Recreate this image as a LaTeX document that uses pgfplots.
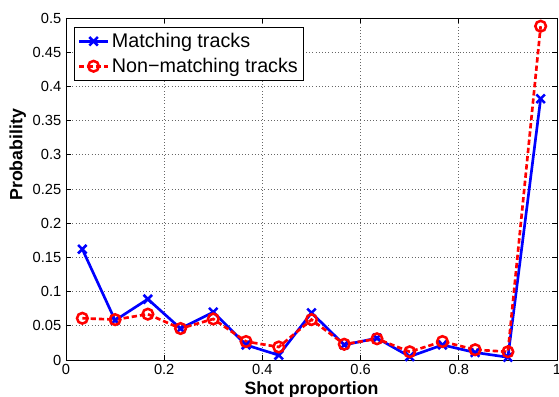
\documentclass[border=0pt]{standalone}
\usepackage{pgfplots}
\pgfplotsset{compat=1.18}
\usepackage{fontspec}
\setmainfont{Liberation Sans}
\begin{document}
\begin{tikzpicture}
\begin{axis}[
  scale only axis,
  width=368.25pt, height=256.5pt,
  xmin=0, xmax=1, ymin=0, ymax=0.5,
  xtick={0,0.2,0.4,0.6,0.8,1},
  ytick={0,0.05,0.1,0.15,0.2,0.25,0.3,0.35,0.4,0.45,0.5},
  /pgf/number format/assume math mode=true,
  /pgf/number format/fixed,
  tick label style={font=\fontsize{11}{13}\selectfont},
  grid=major,
  major grid style={dotted, black!60, line width=0.5pt},
  tick align=inside,
  major tick length=4pt,
  axis line style={black, line width=0.7pt},
  every tick/.style={black, line width=0.6pt},
  xlabel={\bfseries Shot proportion},
  ylabel={\bfseries Probability},
  label style={font=\fontsize{13.3}{15}\selectfont},
  xlabel style={at={(axis description cs:0.5,0)}, anchor=center, yshift=-22.5pt},
  ylabel style={at={(axis description cs:-0.098,0.6)}, anchor=center},
  legend style={at={(axis description cs:0,1)}, anchor=north west, xshift=6pt, yshift=-6.5pt,
    font=\fontsize{14.8}{17}\selectfont, draw=black, line width=0.7pt, inner sep=2.5pt,
    row sep=2.5pt},
  legend cell align=left,
  legend image code/.code={\draw[mark repeat=2,mark phase=2] plot coordinates {(0cm,0cm)(0.38cm,0cm)(0.76cm,0cm)};},
]
\addplot[blue, line width=2pt, mark=x, mark size=4.5pt, mark options={solid, line width=1.9pt}] coordinates {
(0.0333,0.162) (0.1,0.058) (0.1667,0.089) (0.2333,0.046) (0.3,0.070) (0.3667,0.022) (0.4333,0.007) (0.5,0.069) (0.5667,0.022) (0.6333,0.032) (0.7,0.005) (0.7667,0.022) (0.8333,0.011) (0.9,0.004) (0.9667,0.382)
};
\addlegendentry{Matching tracks}
\addplot[red, line width=2pt, dash pattern=on 4pt off 2.2pt, mark=o, mark size=4pt, mark options={solid, line width=1.9pt}] coordinates {
(0.0333,0.061) (0.1,0.059) (0.1667,0.067) (0.2333,0.046) (0.3,0.060) (0.3667,0.027) (0.4333,0.019) (0.5,0.059) (0.5667,0.023) (0.6333,0.031) (0.7,0.012) (0.7667,0.027) (0.8333,0.015) (0.9,0.012) (0.9667,0.488)
};
\addlegendentry{Non\textminus matching tracks}
\end{axis}
\pgfresetboundingbox
\path[use as bounding box] ([xshift=-49.5pt,yshift=-27.75pt]current axis.south west) rectangle ([xshift=1.5pt,yshift=13.5pt]current axis.north east);
\end{tikzpicture}
\end{document}
